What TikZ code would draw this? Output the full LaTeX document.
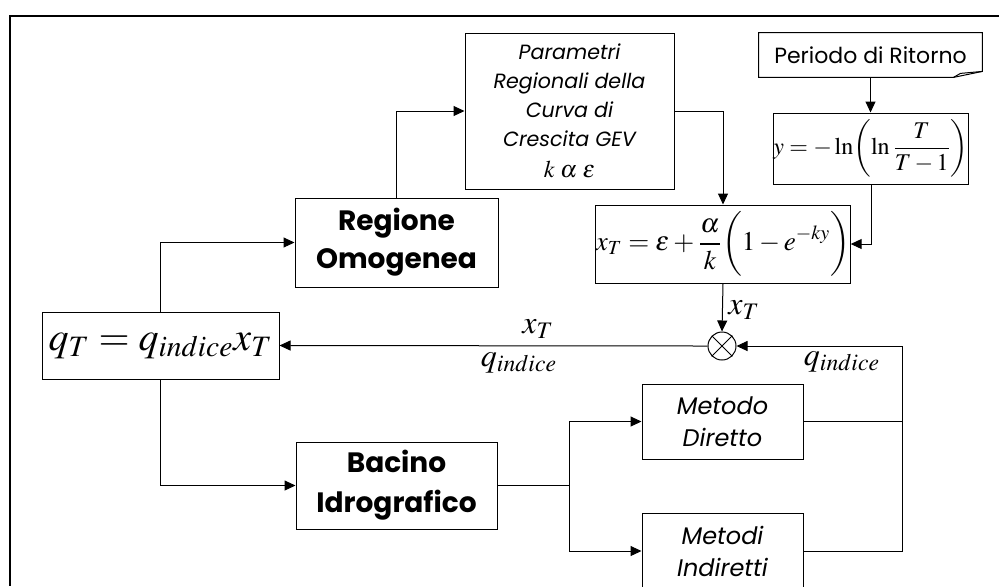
\documentclass[tikz,border=0pt]{standalone}
\usepackage{mathptmx}
\usepackage[no-math]{fontspec}
\setmainfont{Poppins}
\usetikzlibrary{arrows.meta,calc}
\begin{document}
\begin{tikzpicture}[x=0.5pt,y=-0.5pt,
  box/.style={draw, line width=0.5pt, inner sep=0pt, align=center},
  conn/.style={line width=0.5pt},
  arr/.style={conn, -{Triangle[length=5.5pt,width=5pt]}},
  lbl/.style={inner sep=1pt, font=\fontsize{16}{18}\selectfont}]
\useasboundingbox (0,0) rectangle (999,586);
\draw[line width=1.2pt] (999,16) -- (10,16) -- (10,586);

\node[box, minimum width=104.5pt, minimum height=78pt, font=\itshape\fontsize{10.3}{14.5}\selectfont] (par) at (569.5,111)
  {Parametri\\Regionali della\\Curva di\\Crescita GEV\\[1pt]{\fontsize{12}{13}\selectfont$k\;\alpha\;\varepsilon$}};

\node[inner sep=0pt, minimum width=111.5pt, minimum height=22pt, font=\fontsize{11}{13}\selectfont] (per) at (870.5,55) {Periodo di Ritorno};
\draw[line width=0.5pt] (per.north west) -- (per.north east) -- ($(per.south east)+(0,-6)$) -- ($(per.south east)+(-29,0)$) -- (per.south west) -- cycle;
\draw[line width=0.5pt] ($(per.south east)+(-29,0)$) -- ($(per.south east)+(-22,-4)$) -- ($(per.south east)+(0,-6)$);

\node[box, minimum width=93pt, minimum height=35.5pt, font=\fontsize{12}{14}\selectfont] (yb) at (871,148.5)
  {$y=-\ln\biggl(\ln\displaystyle\frac{T}{T-1}\biggr)$};

\node[box, minimum width=121pt, minimum height=39pt, font=\fontsize{13.5}{16}\selectfont] (xt) at (723,244)
  {$x_T=\varepsilon+\displaystyle\frac{\alpha}{k}\biggl(1-e^{-ky}\biggr)$};

\node[box, minimum width=101.5pt, minimum height=44.5pt, font=\bfseries\fontsize{14}{19}\selectfont] (reg) at (396.5,242.5)
  {Regione\\Omogenea};

\node[box, minimum width=118.5pt, minimum height=33.5pt, font=\fontsize{20}{24}\selectfont] (qt) at (160.5,345.5)
  {$q_T=q_{indice}x_T$};

\node[draw, circle, line width=0.5pt, minimum size=14pt, inner sep=0pt] (mul) at (722,346) {};
\draw[line width=0.5pt] (mul.north west) -- (mul.south east) (mul.north east) -- (mul.south west);

\node[box, minimum width=80.5pt, minimum height=37.5pt, font=\itshape\fontsize{12}{16}\selectfont] (dir) at (722.5,421.5)
  {Metodo\\Diretto};
\node[box, minimum width=80.5pt, minimum height=38pt, font=\itshape\fontsize{12}{16}\selectfont] (ind) at (722.5,551)
  {Metodi\\Indiretti};
\node[box, minimum width=100.5pt, minimum height=43.5pt, font=\bfseries\fontsize{14}{20}\selectfont] (bac) at (396.5,485.5)
  {Bacino\\Idrografico};

% connectors
\draw[arr] (qt.north) |- (reg.west);
\draw[arr] (reg.north) |- (par.west);
\draw[arr] (par.east) -| (xt.north);
\draw[arr] (per.south) -- (per.south |- yb.north);
\draw[arr] (yb.south) |- (xt.east);
\draw[arr] (xt.south) -- (mul.north);
\node[lbl] (lx1) at (744,310) {$x_T$};
\draw[arr] (mul.west) -- (qt.east);
\node[lbl] (lx2) at (538,329) {$x_T$};
\node[lbl] (lq1) at (519,363) {$q_{indice}$};
\coordinate (rj) at ($(dir.east)+(99,0)$);
\draw[arr] (dir.east) -- (rj) |- (mul.east);
\draw[conn] (ind.east) -| (rj);
\node[lbl] (lq2) at (842,362) {$q_{indice}$};
\draw[arr] (qt.south) |- (bac.west);
\coordinate (bj) at ($(bac.east)+(72,0)$);
\draw[conn] (bac.east) -- (bj);
\draw[arr] (bj) |- (dir.west);
\draw[arr] (bj) |- (ind.west);
\end{tikzpicture}
\end{document}
